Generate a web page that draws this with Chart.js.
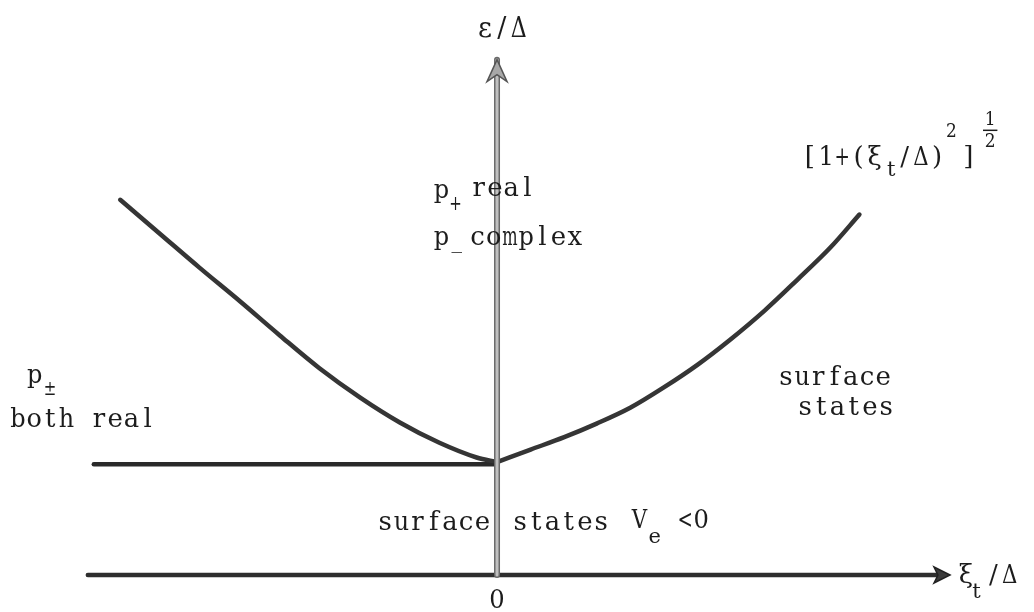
<!DOCTYPE html>
<html>
<head>
<meta charset="utf-8">
<script src="https://cdn.jsdelivr.net/npm/chart.js@4/dist/chart.umd.min.js"></script>
<style>
  body { margin: 0; background: #fff; }
  canvas { display: block; }
</style>
</head>
<body>
<canvas id="myChart" width="1034" height="612"></canvas>
<script>
	// dispersion edge eps/Delta = [1 + (xi_t/Delta)^2]^(1/2)
	var leftXi   = [-3.14, -2.81, -2.48, -2.14, -1.81, -1.48, -1.14, -0.81, -0.48, -0.17, 0];
	var leftEps  = [3.32, 3.02, 2.72, 2.42, 2.12, 1.83, 1.57, 1.35, 1.17, 1.04, 1.0];
	var rightXi  = [0, 0.28, 0.56, 0.83, 1.11, 1.39, 1.67, 1.94, 2.23, 2.5, 2.78, 3.02];
	var rightEps = [1.0, 1.11, 1.22, 1.34, 1.48, 1.66, 1.86, 2.08, 2.34, 2.61, 2.90, 3.19];

	// flat branch eps = Delta on the left
	var flatXi  = [-3.36, 0];
	var flatEps = [0.98, 0.98];

	// axes
	var xAxisXi  = [-3.41, 3.70];
	var xAxisEps = [0, 0];
	var yAxisXi  = [0, 0];
	var yAxisEps = [0, 4.56];

	var tickLabels = ['0'];
	var tickValues = [0];

	function pts(xs, ys) {
		return xs.map(function (x, i) { return { x: x, y: ys[i] }; });
	}

	var ink = '#1c1c1c';
	var serif = '"DejaVu Serif", "Liberation Serif", serif';

	// text labels, in axis units
	var notes = [
		{ t: 'ε/Δ', x: 0.04, y: 4.76, size: 28, align: 'center' },
		{ t: 'p', x: -0.53, y: 3.34, size: 27 },
		{ t: '+', x: -0.40, y: 3.23, size: 22 },
		{ t: 'real', x: -0.22, y: 3.35, size: 27 },
		{ t: 'p', x: -0.53, y: 2.92, size: 27 },
		{ t: '_', x: -0.39, y: 2.89, size: 22 },
		{ t: 'complex', x: -0.23, y: 2.92, size: 27 },
		{ t: '[1+(ξ', x: 2.54, y: 3.63, size: 27 },
		{ t: 't', x: 3.23, y: 3.53, size: 22 },
		{ t: '/Δ)', x: 3.33, y: 3.63, size: 27 },
		{ t: '2', x: 3.74, y: 3.88, size: 19 },
		{ t: ']', x: 3.86, y: 3.63, size: 27 },
		{ t: '1', x: 4.11, y: 3.98, size: 19, align: 'center' },
		{ t: '2', x: 4.11, y: 3.79, size: 19, align: 'center' },
		{ t: 'p', x: -3.92, y: 1.70, size: 27 },
		{ t: '±', x: -3.78, y: 1.59, size: 22 },
		{ t: 'both real', x: -4.06, y: 1.31, size: 27 },
		{ t: 'surface', x: 2.34, y: 1.68, size: 27 },
		{ t: 'states', x: 2.50, y: 1.42, size: 27 },
		{ t: 'surface', x: -1.00, y: 0.40, size: 27 },
		{ t: 'states', x: 0.125, y: 0.40, size: 27 },
		{ t: 'V', x: 1.12, y: 0.42, size: 27 },
		{ t: 'e', x: 1.26, y: 0.28, size: 22 },
		{ t: '<0', x: 1.50, y: 0.42, size: 27 },
		{ t: 'ξ', x: 3.84, y: -0.07, size: 27 },
		{ t: 't', x: 3.94, y: -0.20, size: 22 },
		{ t: '/Δ', x: 4.07, y: -0.07, size: 27 }
	];

	// typewriter look: every character centred in a fixed-width cell,
	// wide glyphs squeezed to fit
	function typeText(c, text, x, y, size, align) {
		var adv = size * 0.6;
		var w = adv * text.length;
		if (align === 'center') x -= w / 2;
		c.font = Math.round(size * 0.96) + 'px ' + serif;
		c.textAlign = 'center';
		for (var i = 0; i < text.length; i++) {
			if (text[i] === ' ') continue;
			var gw = c.measureText(text[i]).width;
			var k = Math.min(1, adv * 0.95 / gw);
			c.save();
			c.translate(x + adv * (i + 0.5), y);
			c.scale(k, 1);
			c.fillText(text[i], 0, 0);
			c.restore();
		}
	}

	var sketchPlugin = {
		id: 'sketch',
		beforeDraw: function (chart) {
			var c = chart.ctx;
			c.save();
			c.fillStyle = '#fff';
			c.fillRect(0, 0, chart.width, chart.height);
			c.restore();
		},
		afterDraw: function (chart) {
			var c = chart.ctx;
			var sx = chart.scales.x, sy = chart.scales.y;
			c.save();

			// arrow heads at the axis ends
			var hx = sx.getPixelForValue(xAxisXi[1]), hy = sy.getPixelForValue(xAxisEps[1]);
			c.fillStyle = '#3a3a3a';
			c.strokeStyle = '#222';
			c.lineWidth = 1.5;
			c.beginPath();
			c.moveTo(hx + 9, hy);
			c.lineTo(hx - 7, hy - 8);
			c.lineTo(hx - 3, hy);
			c.lineTo(hx - 7, hy + 8);
			c.closePath();
			c.fill();
			c.stroke();

			var vx = sx.getPixelForValue(yAxisXi[1]), vy = sy.getPixelForValue(yAxisEps[1]);
			c.fillStyle = '#a8a8a8';
			c.strokeStyle = '#555';
			c.beginPath();
			c.moveTo(vx, vy);
			c.lineTo(vx - 10, vy + 22);
			c.lineTo(vx, vy + 15);
			c.lineTo(vx + 10, vy + 22);
			c.closePath();
			c.fill();
			c.stroke();

			c.fillStyle = ink;
			c.textBaseline = 'alphabetic';

			// tick label under the origin
			tickValues.forEach(function (v, i) {
				typeText(c, tickLabels[i], sx.getPixelForValue(v), sy.getPixelForValue(-0.29), 27, 'center');
			});

			// labels
			notes.forEach(function (n) {
				typeText(c, n.t, sx.getPixelForValue(n.x), sy.getPixelForValue(n.y), n.size, n.align);
			});

			// bar of the 1/2 exponent
			c.strokeStyle = ink;
			c.lineWidth = 1.5;
			c.beginPath();
			c.moveTo(sx.getPixelForValue(4.05), sy.getPixelForValue(3.935));
			c.lineTo(sx.getPixelForValue(4.17), sy.getPixelForValue(3.935));
			c.stroke();

			c.restore();
		}
	};

	var data = {
		datasets: [
			{ data: pts(yAxisXi, yAxisEps), borderColor: '#c0c0c0', borderWidth: 3, order: 1 },
			{ data: pts(yAxisXi, yAxisEps), borderColor: '#6a6a6a', borderWidth: 6, order: 2 },
			{ data: pts(leftXi, leftEps), borderColor: '#353535', borderWidth: 4.5, cubicInterpolationMode: 'monotone', order: 3 },
			{ data: pts(rightXi, rightEps), borderColor: '#353535', borderWidth: 4.5, cubicInterpolationMode: 'monotone', order: 3 },
			{ data: pts(flatXi, flatEps), borderColor: '#2a2a2a', borderWidth: 4.5, order: 4 },
			{ data: pts(xAxisXi, xAxisEps), borderColor: '#2e2e2e', borderWidth: 4.5, order: 5 }
		]
	};
	data.datasets.forEach(function (d) {
		d.showLine = true;
		d.pointRadius = 0;
		d.borderCapStyle = 'round';
		d.borderJoinStyle = 'round';
	});

	var options = {
		responsive: false,
		animation: false,
		layout: { padding: 0 },
		plugins: { legend: { display: false }, tooltip: { enabled: false } },
		scales: {
			x: { type: 'linear', min: -4.142, max: 4.475, display: false },
			y: { type: 'linear', min: -0.327, max: 5.088, display: false }
		}
	};

	var ctx = document.getElementById('myChart').getContext('2d');
	var myChart = new Chart(ctx, {
		type: 'scatter',
		data: data,
		options: options,
		plugins: [sketchPlugin]
	});
</script>
</body>
</html>
